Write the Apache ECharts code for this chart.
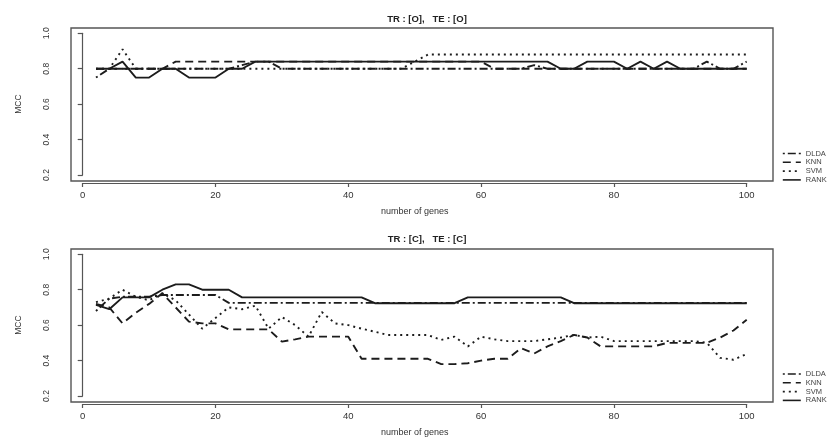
<!DOCTYPE html>
<html>
<head>
<meta charset="utf-8">
<title>MCC vs number of genes</title>
<script src="https://cdn.jsdelivr.net/npm/echarts@6/dist/echarts.min.js"></script>
<style>
  html, body { margin: 0; padding: 0; background: #fff; }
  #chart { width: 835px; height: 439px; }
</style>
</head>
<body>
<div id="chart"></div>
<script>
const genes = [2, 4, 6, 8, 10, 12, 14, 16, 18, 20, 22, 24, 26, 28, 30, 32, 34, 36, 38, 40,
  42, 44, 46, 48, 50, 52, 54, 56, 58, 60, 62, 64, 66, 68, 70, 72, 74, 76, 78, 80,
  82, 84, 86, 88, 90, 92, 94, 96, 98, 100];

const methods = ["DLDA", "KNN", "SVM", "RANK"];
const titles = ["TR : [O],   TE : [O]", "TR : [C],   TE : [C]"];
const xTicks = [0, 20, 40, 60, 80, 100];
const yTicks = [0.2, 0.4, 0.6, 0.8, 1.0];

// panel 1 : TR [O], TE [O]
const dldaO = [0.75, 0.80, 0.80, 0.80, 0.80, 0.80, 0.80, 0.80, 0.80, 0.80,
  0.80, 0.82, 0.84, 0.84, 0.80, 0.80, 0.80, 0.80, 0.80, 0.80,
  0.80, 0.80, 0.80, 0.80, 0.80, 0.80, 0.80, 0.80, 0.80, 0.80,
  0.80, 0.80, 0.80, 0.82, 0.80, 0.80, 0.80, 0.80, 0.80, 0.80,
  0.80, 0.80, 0.80, 0.80, 0.80, 0.80, 0.84, 0.80, 0.80, 0.84];
const knnO = [0.80, 0.80, 0.80, 0.80, 0.80, 0.80, 0.84, 0.84, 0.84, 0.84,
  0.84, 0.84, 0.84, 0.84, 0.84, 0.84, 0.84, 0.84, 0.84, 0.84,
  0.84, 0.84, 0.84, 0.84, 0.84, 0.84, 0.84, 0.84, 0.84, 0.84,
  0.80, 0.80, 0.80, 0.80, 0.80, 0.80, 0.80, 0.80, 0.80, 0.80,
  0.80, 0.80, 0.80, 0.80, 0.80, 0.80, 0.80, 0.80, 0.80, 0.80];
const svmO = [0.80, 0.80, 0.91, 0.80, 0.80, 0.80, 0.80, 0.80, 0.80, 0.80,
  0.80, 0.80, 0.80, 0.80, 0.80, 0.80, 0.80, 0.80, 0.80, 0.80,
  0.80, 0.80, 0.80, 0.80, 0.84, 0.88, 0.88, 0.88, 0.88, 0.88,
  0.88, 0.88, 0.88, 0.88, 0.88, 0.88, 0.88, 0.88, 0.88, 0.88,
  0.88, 0.88, 0.88, 0.88, 0.88, 0.88, 0.88, 0.88, 0.88, 0.88];
const rankO = [0.80, 0.80, 0.84, 0.75, 0.75, 0.80, 0.80, 0.75, 0.75, 0.75,
  0.80, 0.80, 0.84, 0.84, 0.84, 0.84, 0.84, 0.84, 0.84, 0.84,
  0.84, 0.84, 0.84, 0.84, 0.84, 0.84, 0.84, 0.84, 0.84, 0.84,
  0.84, 0.84, 0.84, 0.84, 0.84, 0.80, 0.80, 0.84, 0.84, 0.84,
  0.80, 0.84, 0.80, 0.84, 0.80, 0.80, 0.80, 0.80, 0.80, 0.80];

// panel 2 : TR [C], TE [C]
const dldaC = [0.68, 0.75, 0.76, 0.76, 0.76, 0.77, 0.77, 0.77, 0.77, 0.77,
  0.726, 0.726, 0.726, 0.726, 0.726, 0.726, 0.726, 0.726, 0.726, 0.726,
  0.726, 0.726, 0.726, 0.726, 0.726, 0.726, 0.726, 0.726, 0.726, 0.726,
  0.726, 0.726, 0.726, 0.726, 0.726, 0.726, 0.726, 0.726, 0.726, 0.726,
  0.726, 0.726, 0.726, 0.726, 0.726, 0.726, 0.726, 0.726, 0.726, 0.726];
const knnC = [0.72, 0.70, 0.61, 0.67, 0.72, 0.78, 0.70, 0.62, 0.61, 0.61,
  0.576, 0.576, 0.576, 0.576, 0.507, 0.52, 0.535, 0.535, 0.535, 0.535,
  0.41, 0.41, 0.41, 0.41, 0.41, 0.41, 0.38, 0.38, 0.385, 0.40,
  0.41, 0.41, 0.47, 0.44, 0.48, 0.51, 0.545, 0.53, 0.48, 0.48,
  0.48, 0.48, 0.48, 0.50, 0.50, 0.50, 0.50, 0.53, 0.57, 0.63];
const svmC = [0.73, 0.75, 0.80, 0.76, 0.74, 0.78, 0.74, 0.66, 0.58, 0.64,
  0.70, 0.69, 0.71, 0.58, 0.646, 0.60, 0.535, 0.674, 0.61, 0.60,
  0.58, 0.563, 0.544, 0.544, 0.544, 0.544, 0.517, 0.535, 0.48, 0.535,
  0.52, 0.51, 0.51, 0.51, 0.52, 0.53, 0.545, 0.53, 0.535, 0.51,
  0.51, 0.51, 0.51, 0.51, 0.51, 0.51, 0.50, 0.415, 0.405, 0.437];
const rankC = [0.715, 0.69, 0.757, 0.757, 0.757, 0.80, 0.83, 0.83, 0.80, 0.80,
  0.80, 0.757, 0.757, 0.757, 0.757, 0.757, 0.757, 0.757, 0.757, 0.757,
  0.757, 0.724, 0.724, 0.724, 0.724, 0.724, 0.724, 0.724, 0.757, 0.757,
  0.757, 0.757, 0.757, 0.757, 0.757, 0.757, 0.724, 0.724, 0.724, 0.724,
  0.724, 0.724, 0.724, 0.724, 0.724, 0.724, 0.724, 0.724, 0.724, 0.724];

const panels = [
  [dldaO, knnO, svmO, rankO],
  [dldaC, knnC, svmC, rankC],
];

// R style line types: dotdash, dashed, dotted, solid
const lineTypes = [[2, 3, 8, 3], [8, 5], [2, 4], "solid"];

const font = "Liberation Sans, Arial, sans-serif";
const ink = "#1c1c1c";
const axisColor = "#555";

const gridTops = [33.3, 254.3];
const gridHeight = 141.7;
const boxes = [
  { x: 71, y: 28, width: 702, height: 153 },
  { x: 71, y: 249, width: 702, height: 153 },
];

const makePoints = (vals) => vals.map((v, i) => [genes[i], v]);

const options = {
  animation: false,
  title: titles.map((t, i) => ({
    text: t,
    left: 422,
    textAlign: "center",
    top: i === 0 ? 9 : 229,
    textStyle: { fontFamily: font, fontSize: 9.5, fontWeight: "bold", color: "#222" },
  })),
  legend: [0, 1].map((i) => ({
    data: methods,
    orient: "vertical",
    left: 782,
    top: i === 0 ? 149.5 : 370,
    itemWidth: 18,
    itemHeight: 6,
    itemGap: 0.8,
    padding: 0,
    selectedMode: false,
    itemStyle: { opacity: 0 },
    lineStyle: { width: 1.6 },
    textStyle: { fontFamily: font, fontSize: 7.5, lineHeight: 6, color: "#444" },
  })),
  grid: gridTops.map((top) => ({
    left: 82.7,
    width: 664,
    top: top,
    height: gridHeight,
  })),
  xAxis: [0, 1].map((i) => ({
    gridIndex: i,
    type: "value",
    min: 0,
    max: 100,
    interval: 20,
    offset: 8,
    name: "number of genes",
    nameLocation: "middle",
    nameGap: 24,
    nameTextStyle: { fontFamily: font, fontSize: 9, color: "#333" },
    axisLine: { lineStyle: { color: axisColor, width: 1.2 } },
    axisTick: { length: 4, lineStyle: { color: axisColor, width: 1.2 } },
    axisLabel: {
      margin: 7,
      fontFamily: font,
      fontSize: 9.5,
      color: "#333",
      customValues: xTicks,
    },
    splitLine: { show: false },
  })),
  yAxis: [0, 1].map((i) => ({
    gridIndex: i,
    type: "value",
    min: 0.2,
    max: 1.0,
    interval: 0.2,
    offset: 14,
    name: "MCC",
    nameLocation: "middle",
    nameGap: 46,
    nameTextStyle: { fontFamily: font, fontSize: 8.5, color: "#333" },
    axisLine: { show: true, lineStyle: { color: axisColor, width: 1.2 } },
    axisTick: { show: true, length: 5, lineStyle: { color: axisColor, width: 1.2 } },
    axisLabel: {
      rotate: 90,
      margin: 18,
      fontFamily: font,
      fontSize: 8.5,
      color: "#333",
      customValues: yTicks,
      formatter: (v) => v.toFixed(1),
    },
    splitLine: { show: false },
  })),
  graphic: boxes.map((b) => ({
    type: "rect",
    shape: b,
    silent: true,
    style: { fill: "none", stroke: axisColor, lineWidth: 1.4 },
  })),
  series: [],
};

panels.forEach((sets, p) => {
  sets.forEach((vals, m) => {
    options.series.push({
      name: methods[m],
      type: "line",
      xAxisIndex: p,
      yAxisIndex: p,
      data: makePoints(vals),
      symbol: "none",
      lineStyle: { color: ink, width: 1.9, type: lineTypes[m] },
      itemStyle: { color: ink },
    });
  });
});

const chart = echarts.init(document.getElementById("chart"));
chart.setOption(options);
window.addEventListener("resize", () => {
  chart.resize();
});
</script>
</body>
</html>
